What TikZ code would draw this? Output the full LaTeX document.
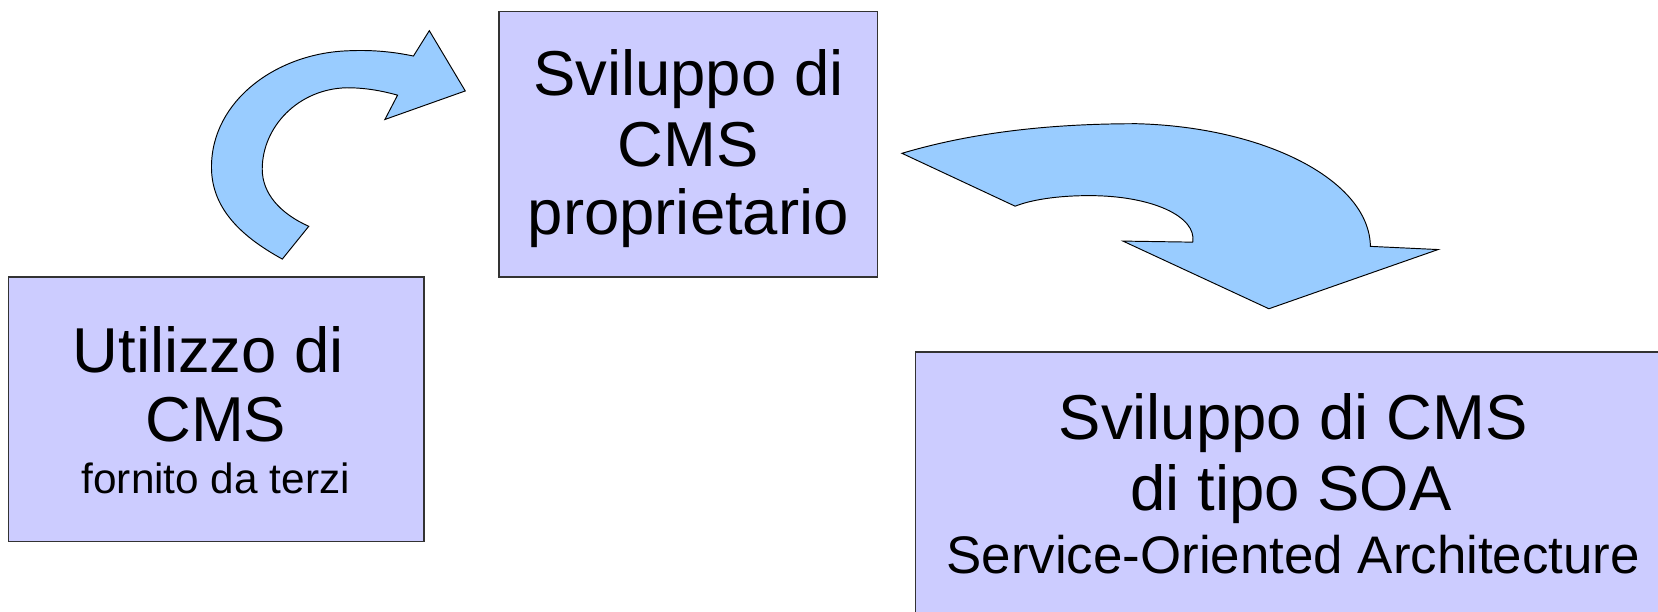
\documentclass[tikz,border=0pt]{standalone}
\usepackage{fontspec}
\setmainfont{Liberation Sans}
\definecolor{boxfill}{HTML}{CCCCFF}
\definecolor{boxline}{HTML}{333333}
\definecolor{arrowfill}{HTML}{99CCFF}
\begin{document}
\begin{tikzpicture}[x=1pt,y=-1pt,
  box/.style={draw=boxline,fill=boxfill,line width=1.2pt},
  bigtxt/.style={anchor=base,inner sep=0pt,font=\fontsize{60}{66}\selectfont},
  smalltxt/.style={anchor=base,inner sep=0pt,font=\fontsize{40}{44}\selectfont},
  midtxt/.style={anchor=base,inner sep=0pt,font=\fontsize{50}{55}\selectfont},
  bentarrow/.style={draw=black,fill=arrowfill,line width=0.9pt,line join=miter}]
\useasboundingbox (0,0) rectangle (1568,578);
\clip (0,0) rectangle (1568,578);
\fill[white] (0,0) rectangle (1568,578);

% boxes
\draw[box] (8,262) rectangle (401,512);
\draw[box] (472,11) rectangle (830,262);
\fill[boxfill] (866,333) rectangle (1600,620);
\draw[boxline,line width=1.2pt] (866,620) -- (866,333) -- (1600,333);

% box 1 text
\node[bigtxt] (u1) at (197,352) {Utilizzo di};
\node[bigtxt] (u2) at (204,418) {CMS};
\node[smalltxt] (u3) at (204,467) {fornito da terzi};

% box 2 text
\node[bigtxt] (p1) at (651,90) {Sviluppo di};
\node[bigtxt] (p2) at (651,157) {CMS};
\node[bigtxt] (p3) at (651,222) {proprietario};

% box 3 text
\node[bigtxt] (s1) at (1223,416) {Sviluppo di CMS};
\node[bigtxt] (s2) at (1221,483) {di tipo SOA};
\node[midtxt] (s3) at (1223,542) {Service-Oriented Architecture};

% arrow 1
\path[bentarrow] (267,245) .. controls (225,222) and (200,195) .. (200,158)
  .. controls (200,95) and (262,50) .. (330,48)
  .. controls (352,47) and (372,49) .. (391,53)
  -- (406,29) -- (440,86) -- (364,113) -- (376,90)
  .. controls (358,85) and (343,83) .. (328,83)
  .. controls (282,84) and (248,120) .. (248,160)
  .. controls (248,183) and (265,202) .. (292,214) -- cycle;

% arrow 2
\path[bentarrow] (853,145) .. controls (930,122) and (1010,117) .. (1075,117)
  .. controls (1195,120) and (1295,170) .. (1296,233)
  -- (1360,236) -- (1200,292) -- (1062,228) -- (1128,229)
  .. controls (1132,205) and (1090,185) .. (1030,185)
  .. controls (1000,185) and (975,189) .. (960,195) -- cycle;
\end{tikzpicture}
\end{document}
